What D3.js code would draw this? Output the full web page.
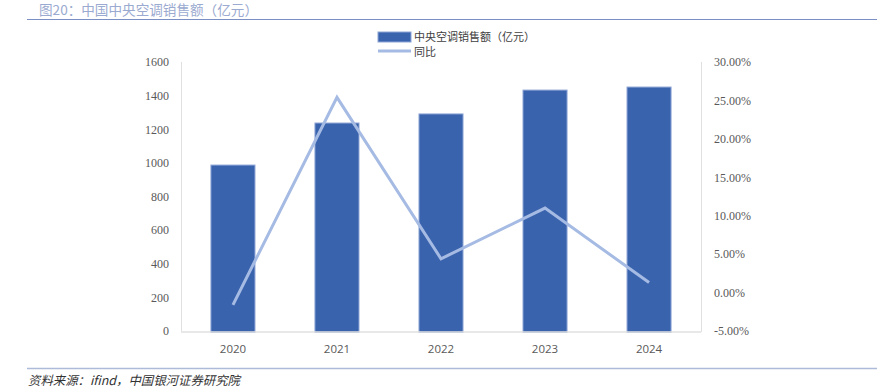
<!DOCTYPE html>
<html><head><meta charset="utf-8">
<script src="https://cdn.jsdelivr.net/npm/d3@7"></script>
<style>body{margin:0;background:#fff}svg{display:block}</style>
</head><body>
<svg id="c" width="881" height="390"></svg>
<script>
const years = ["2020","2021","2022","2023","2024"];
const sales = [987, 1237, 1291, 1433, 1451];
const yoy = [-1.6, 25.4, 4.4, 11.0, 1.3];
const leftTicks = [0,200,400,600,800,1000,1200,1400,1600];
const rightTicks = [-5,0,5,10,15,20,25,30];
const titleText = "图20：中国中央空调销售额（亿元）";
const sourceText = "资料来源：ifind，中国银河证券研究院";
const legendLabels = ["中央空调销售额（亿元）","同比"];

const svg = d3.select("#c");
const L = 181, R = 701, T = 62, B = 331;
const cjk = "'Noto Sans CJK SC', sans-serif";
const serif = "'Liberation Serif', 'DejaVu Serif', serif";

const x = d3.scaleBand().domain(years).range([L, R]).paddingInner(0.567).paddingOuter(0.283);
const y = d3.scaleLinear().domain([0,1600]).range([B, T]);
const y2 = d3.scaleLinear().domain([-5,30]).range([B, T]);

// title & rules
svg.append("text").attr("x",39).attr("y",14.5).attr("font-family",cjk).attr("font-size",13.6)
  .attr("fill","#9aaad0").text(titleText);
svg.append("line").attr("x1",27).attr("x2",877).attr("y1",19.5).attr("y2",19.5).attr("stroke","#7a8fc4").attr("stroke-width",1.2);
svg.append("line").attr("x1",27).attr("x2",877).attr("y1",368.5).attr("y2",368.5).attr("stroke","#aebbd8").attr("stroke-width",1.5);
svg.append("text").attr("x",28).attr("y",385).attr("font-family",cjk).attr("font-size",12.4)
  .attr("font-style","italic").attr("fill","#333").text(sourceText);

// axes lines
svg.append("line").attr("x1",L+0.5).attr("x2",L+0.5).attr("y1",T).attr("y2",B).attr("stroke","#e0e0e0");
svg.append("line").attr("x1",R+0.5).attr("x2",R+0.5).attr("y1",T).attr("y2",B+1).attr("stroke","#e0e0e0");

// left axis labels
const la = svg.append("g").attr("transform",`translate(${L-12},0)`)
  .call(d3.axisLeft(y).tickValues(leftTicks).tickSize(0).tickPadding(0).tickFormat(d3.format("d")));
la.select(".domain").remove();
la.attr("font-family",serif);
la.selectAll("text").attr("font-family",serif).attr("font-size",12).attr("fill","#595959");

// right axis labels
const ra = svg.append("g").attr("transform",`translate(${R+13},0)`)
  .call(d3.axisRight(y2).tickValues(rightTicks).tickSize(0).tickPadding(0).tickFormat(d=>d.toFixed(2)+"%"));
ra.select(".domain").remove();
ra.attr("font-family",serif);
ra.selectAll("text").attr("font-family",serif).attr("font-size",12).attr("fill","#595959");

// bars
svg.append("g").selectAll("rect").data(years).join("rect")
  .attr("x",d=>x(d)+0.5).attr("width",x.bandwidth()-1)
  .attr("y",(d,i)=>y(sales[i])).attr("height",(d,i)=>y(0)-y(sales[i])+1.5)
  .attr("fill","#3a63ad").attr("stroke","#8ea5d6").attr("stroke-width",1);

// x axis line
svg.append("line").attr("x1",L).attr("x2",R).attr("y1",B+1).attr("y2",B+1).attr("stroke","#e0e0e0").attr("stroke-width",1.5);

// x axis labels
const xa = svg.append("g").attr("transform",`translate(0,${B+10})`)
  .call(d3.axisBottom(x).tickSize(0).tickPadding(0));
xa.select(".domain").remove();
xa.selectAll("text").attr("font-family","'Open Sans', 'Noto Sans', sans-serif").attr("font-size",11.5).attr("fill","#595959").attr("dy","1em");

// line
const line = d3.line().x((d,i)=>x(years[i])+x.bandwidth()/2).y(d=>y2(d));
svg.append("path").datum(yoy).attr("d",line).attr("fill","none")
  .attr("stroke","#a6bbe3").attr("stroke-width",3).attr("stroke-linejoin","miter");

// legend
svg.append("rect").attr("x",378).attr("y",32).attr("width",33).attr("height",10).attr("fill","#3a63ad").attr("stroke","#8ea5d6");
svg.append("line").attr("x1",378).attr("x2",411).attr("y1",51).attr("y2",51).attr("stroke","#a6bbe3").attr("stroke-width",3);
svg.append("text").attr("x",414).attr("y",41).attr("font-family",cjk).attr("font-size",11).attr("fill","#404040").text(legendLabels[0]);
svg.append("text").attr("x",414).attr("y",55.5).attr("font-family",cjk).attr("font-size",11).attr("fill","#404040").text(legendLabels[1]);
</script>
</body></html>
